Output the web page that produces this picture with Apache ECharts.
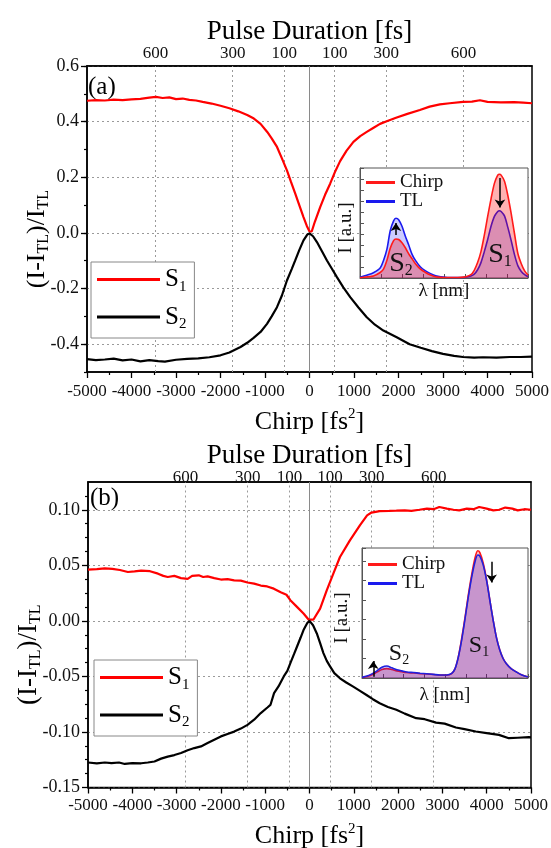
<!DOCTYPE html>
<html><head><meta charset="utf-8">
<script src="https://cdn.jsdelivr.net/npm/echarts@6/dist/echarts.min.js"></script>
<style>html,body{margin:0;padding:0;background:#fff}#c{width:551px;height:848px}</style>
</head><body><div id="c"></div>
<script>
const FONT = '"Liberation Serif","Times New Roman","DejaVu Serif",serif';

// ---------- Panel (a) main curves ----------
const aS1Chirp = [-5000,-4800,-4600,-4400,-4200,-4000,-3800,-3600,-3450,-3300,-3150,-3000,-2850,-2700,-2550,-2400,-2200,-2000,-1800,-1600,-1400,-1250,-1100,-950,-850,-730,-620,-507,-420,-320,-230,-135,-60,0,50,120,240,350,464,580,688,830,987,1140,1287,1440,1585,1750,1960,2200,2480,2700,2930,3150,3450,3650,3830,4000,4300,4600,4800,5000];
const aS1Val   = [0.475,0.477,0.476,0.479,0.477,0.480,0.482,0.486,0.489,0.485,0.487,0.481,0.483,0.478,0.476,0.471,0.465,0.457,0.448,0.437,0.424,0.411,0.392,0.363,0.340,0.309,0.268,0.225,0.185,0.141,0.100,0.057,0.025,0.005,0.005,0.040,0.093,0.137,0.177,0.222,0.258,0.295,0.327,0.348,0.363,0.378,0.392,0.402,0.415,0.428,0.442,0.454,0.462,0.466,0.471,0.472,0.477,0.471,0.469,0.470,0.468,0.466];
const aS2Chirp = [-5000,-4800,-4600,-4400,-4200,-4000,-3800,-3600,-3400,-3250,-3000,-2750,-2500,-2250,-2000,-1800,-1550,-1400,-1256,-1100,-955,-850,-731,-620,-507,-400,-321,-230,-135,-50,0,80,167,280,392,500,616,760,915,1100,1287,1470,1660,1960,2250,2500,2750,3000,3250,3450,3700,3900,4200,4500,4750,5000];
const aS2Val   = [-0.454,-0.457,-0.455,-0.452,-0.458,-0.455,-0.462,-0.457,-0.461,-0.463,-0.456,-0.453,-0.451,-0.447,-0.440,-0.430,-0.410,-0.395,-0.377,-0.356,-0.327,-0.300,-0.267,-0.225,-0.171,-0.130,-0.099,-0.062,-0.027,-0.006,-0.002,-0.012,-0.033,-0.066,-0.099,-0.128,-0.159,-0.196,-0.231,-0.268,-0.303,-0.330,-0.351,-0.375,-0.400,-0.413,-0.425,-0.435,-0.442,-0.446,-0.448,-0.447,-0.448,-0.446,-0.446,-0.445];
const aYTicks = [-0.4,-0.2,0,0.2,0.4,0.6];
const aPulseChirp = [-3460,-1726,-567,567,1726,3460];
const aPulseLabels = ['600','300','100','100','300','600'];

// ---------- Panel (a) inset spectra ----------
const aInsX     = [0,4,8,12,14,16,18,20,21.4,23,25,27,29,31,33,36,39,42,45,48,52,56,60,63,66,68,70,72,74,76,78,80,82,83,84,86,88,90,92,94,96,98,100];
const aInsTL    = [0.006,0.025,0.048,0.09,0.16,0.26,0.43,0.52,0.543,0.53,0.47,0.38,0.30,0.215,0.16,0.10,0.065,0.04,0.02,0.01,0.005,0.004,0.005,0.008,0.018,0.035,0.075,0.14,0.24,0.35,0.47,0.56,0.605,0.612,0.605,0.565,0.46,0.34,0.21,0.11,0.06,0.03,0.012];
const aInsChirp = [0.003,0.01,0.018,0.05,0.08,0.16,0.27,0.34,0.355,0.35,0.32,0.275,0.22,0.175,0.13,0.08,0.05,0.027,0.012,0.006,0.004,0.004,0.006,0.012,0.03,0.07,0.14,0.24,0.39,0.56,0.72,0.86,0.935,0.943,0.935,0.88,0.75,0.585,0.40,0.22,0.13,0.065,0.027];

// ---------- Panel (b) main curves ----------
const bS1Chirp = [-5000,-4800,-4620,-4450,-4280,-4100,-3950,-3800,-3600,-3420,-3300,-3200,-3050,-2900,-2750,-2650,-2500,-2400,-2300,-2150,-2000,-1850,-1700,-1550,-1400,-1250,-1100,-955,-806,-650,-520,-432,-283,-135,-22,90,240,389,538,688,912,1137,1300,1400,1585,1800,1960,2150,2300,2480,2650,2800,2930,3100,3250,3380,3550,3700,3830,4000,4150,4280,4420,4580,4700,4850,5000];
const bS1Val   = [0.0462,0.0465,0.0472,0.0468,0.0458,0.0440,0.0445,0.0452,0.0447,0.0425,0.0405,0.0395,0.0405,0.0385,0.0378,0.0405,0.0410,0.0395,0.0400,0.0385,0.0372,0.0375,0.0365,0.0362,0.0345,0.0335,0.0318,0.0310,0.0290,0.0258,0.0235,0.0186,0.0126,0.0066,0.0012,0.0012,0.0110,0.0275,0.0425,0.0575,0.0724,0.0860,0.0950,0.0975,0.0988,0.0990,0.0992,0.0995,0.0990,0.1000,0.1010,0.1005,0.1025,0.1010,0.1000,0.0995,0.1010,0.1005,0.1025,0.1010,0.0995,0.1000,0.1020,0.1010,0.0995,0.1005,0.1000];
const bS2Chirp = [-5000,-4800,-4620,-4470,-4300,-4170,-4000,-3800,-3650,-3500,-3350,-3200,-3050,-2900,-2750,-2600,-2450,-2300,-2150,-2000,-1850,-1700,-1550,-1400,-1250,-1100,-950,-882,-800,-700,-581,-500,-432,-350,-283,-200,-135,-50,0,80,165,240,314,390,464,560,688,830,987,1140,1287,1430,1585,1770,1960,2150,2408,2600,2857,3050,3305,3500,3753,4000,4276,4500,4700,4955,5000];
const bS2Val   = [-0.1275,-0.1282,-0.1275,-0.1280,-0.1275,-0.1288,-0.1280,-0.1282,-0.1275,-0.1266,-0.1240,-0.1222,-0.1208,-0.1190,-0.1165,-0.1145,-0.1130,-0.1100,-0.1070,-0.1040,-0.1018,-0.0997,-0.0970,-0.0936,-0.0890,-0.0830,-0.0780,-0.0757,-0.0650,-0.0590,-0.0500,-0.0450,-0.0380,-0.0300,-0.0233,-0.0150,-0.0083,-0.0020,0.0,-0.0040,-0.0113,-0.0200,-0.0290,-0.0360,-0.0410,-0.0470,-0.0517,-0.0555,-0.0592,-0.0630,-0.0667,-0.0705,-0.0741,-0.0775,-0.0800,-0.0835,-0.0876,-0.0885,-0.0916,-0.0925,-0.0960,-0.0975,-0.0996,-0.1010,-0.1026,-0.1056,-0.1052,-0.1047,-0.1048];
const bYTicks = [-0.15,-0.10,-0.05,0,0.05,0.10];
const bPulseChirp = [-2800,-1395,-452,460,1405,2803];
const bPulseLabels = ['600','300','100','100','300','600'];

// ---------- Panel (b) inset spectra ----------
const bInsX     = [0,3,6,9,12,15,18,21,24,27,31,35,39,43,47,51,54,56,58,60,62,64,66,68,69.7,71,73,75,77,79,81,83,85,87,90,93,96,100];
const bInsTL    = [0.005,0.015,0.032,0.055,0.082,0.092,0.078,0.064,0.055,0.046,0.042,0.037,0.033,0.028,0.023,0.023,0.035,0.07,0.16,0.29,0.45,0.62,0.77,0.89,0.946,0.938,0.87,0.754,0.60,0.446,0.31,0.215,0.15,0.11,0.07,0.046,0.025,0.008];
const bInsChirp = [0.004,0.012,0.025,0.045,0.065,0.072,0.065,0.055,0.048,0.042,0.038,0.034,0.031,0.027,0.022,0.022,0.034,0.07,0.16,0.30,0.46,0.635,0.79,0.92,0.979,0.965,0.885,0.76,0.60,0.446,0.31,0.215,0.15,0.11,0.07,0.046,0.025,0.008];

const zip = (xs, ys) => xs.map((x, i) => [x, ys[i]]);
const nearestLabel = (pos, labels) => v => {
  let best = 0;
  pos.forEach((p, i) => { if (Math.abs(p - v) < Math.abs(pos[best] - v)) best = i; });
  return labels[best];
};

const gridLineStyle = {color: '#9a9a9a', type: [2, 3], width: 1};
const spine = {show: true, onZero: false, lineStyle: {color: '#000', width: 1.5}};
const tickLbl = {fontFamily: FONT, fontSize: 17, color: '#111'};

function mainAxes(gi, pulsePos, pulseLabels, topMargin, topGap, botGap, botMargin) {
  return [
    { // bottom chirp axis
      type: 'value', gridIndex: gi, position: 'bottom', min: -5000, max: 5000, interval: 1000,
      axisLine: spine, axisTick: {show: true, inside: false, length: 6, lineStyle: {color: '#000', width: 1.3}},
      minorTick: {show: true, splitNumber: 2, length: 3, lineStyle: {color: '#000', width: 1.2}},
      axisLabel: Object.assign({margin: botMargin, showMinLabel: true, showMaxLabel: true, formatter: v => String(v)}, tickLbl),
      splitLine: {show: false},
      name: '{n|Chirp [fs}{p|2}{n|]}', nameLocation: 'middle', nameGap: botGap, nameMoveOverlap: false,
      nameTextStyle: {rich: {
        n: {fontFamily: FONT, fontSize: 26, lineHeight: 30, color: '#000'},
        p: {fontFamily: FONT, fontSize: 15, lineHeight: 15, verticalAlign: 'top', color: '#000'}
      }}
    },
    { // top pulse-duration axis
      type: 'value', gridIndex: gi, position: 'top', min: -5000, max: 5000,
      axisLine: spine, axisTick: {show: false},
      axisLabel: Object.assign({margin: topMargin, customValues: pulsePos, formatter: nearestLabel(pulsePos, pulseLabels)}, tickLbl),
      splitLine: {show: false},
      name: 'Pulse Duration [fs]', nameLocation: 'middle', nameGap: topGap, nameMoveOverlap: false,
      nameTextStyle: {fontFamily: FONT, fontSize: 27, color: '#000'}
    }
  ];
}

function insetXAxis(gi, gap) {
  return {
    type: 'value', gridIndex: gi, min: 0, max: 100, interval: 12.5, z: 11,
    axisLine: {show: true, onZero: false, lineStyle: {color: '#555', width: 1}},
    axisTick: {show: true, inside: true, length: 4, lineStyle: {color: '#555'}},
    axisLabel: {show: false}, splitLine: {show: false},
    name: 'λ [nm]', nameLocation: 'middle', nameGap: gap, nameMoveOverlap: false,
    nameTextStyle: {fontFamily: FONT, fontSize: 19, color: '#111'}
  };
}
function insetYAxis(gi, interval, gap) {
  return {
    type: 'value', gridIndex: gi, min: 0, max: 1, interval: interval, z: 11,
    axisLine: {show: true, onZero: false, lineStyle: {color: '#555', width: 1}},
    axisTick: {show: true, inside: true, length: 4, lineStyle: {color: '#555'}},
    axisLabel: {show: false}, splitLine: {show: false},
    name: 'I [a.u.]', nameLocation: 'middle', nameGap: gap, nameMoveOverlap: false,
    nameTextStyle: {fontFamily: FONT, fontSize: 19, color: '#111', padding: [0, 10, 0, 0]}
  };
}

const yNameRich = (fs) => ({
  n: {fontFamily: FONT, fontSize: fs, lineHeight: fs + 4, color: '#000'},
  s: {fontFamily: FONT, fontSize: Math.round(fs * 0.6), lineHeight: Math.round(fs * 0.6), verticalAlign: 'bottom', color: '#000'}
});
const Y_NAME = '{n|(I-I}{s|TL}{n|)/I}{s|TL}';

function gridLineSeries(xi, yi, pulsePos) {
  return {
    type: 'line', xAxisIndex: xi, yAxisIndex: yi, data: [], silent: true, z: 1,
    markLine: {
      silent: true, symbol: 'none', label: {show: false}, animation: false, z: 2,
      lineStyle: gridLineStyle,
      data: pulsePos.map(v => ({xAxis: v})).concat([{xAxis: 0, lineStyle: {type: 'solid', color: '#8a8a8a', width: 1}}])
    }
  };
}

function mainLine(name, color, xi, yi, xs, ys) {
  return {type: 'line', name: name, xAxisIndex: xi, yAxisIndex: yi, data: zip(xs, ys), symbol: 'none',
    color: color, lineStyle: {color: color, width: 2.2}, z: 6};
}

function insetSeries(name, color, fill, xi, yi, xs, ys, z, extra) {
  return Object.assign({type: 'line', name: name, xAxisIndex: xi, yAxisIndex: yi, data: zip(xs, ys), symbol: 'none',
    smooth: 0.3, color: color, lineStyle: {color: color, width: 1.6}, areaStyle: {color: fill, opacity: 1}, z: z}, extra || {});
}

const sLabelRich = (fs) => ({
  s: {fontFamily: FONT, fontSize: fs, lineHeight: fs + 2, color: '#111'},
  b: {fontFamily: FONT, fontSize: Math.round(fs * 0.58), lineHeight: Math.round(fs * 0.58), verticalAlign: 'bottom', color: '#111'}
});
function sMarks(items, fs) {
  return {
    z: 16, symbol: 'circle', symbolSize: 1, itemStyle: {color: 'rgba(0,0,0,0)'}, silent: true, animation: false,
    label: {show: true, position: 'inside', rich: sLabelRich(fs)},
    data: items.map(it => ({coord: [it.x, it.y], value: 0, label: {show: true, formatter: '{s|S}{b|' + it.sub + '}'}}))
  };
}
function arrows(list) {
  return {
    z: 16, silent: true, animation: false, symbol: ['none', 'arrow'], symbolSize: 8, label: {show: false},
    lineStyle: {color: '#000', width: 1.5, type: 'solid'}, itemStyle: {color: '#000'},
    data: list.map(a => [{coord: [a.x, a.y0]}, {coord: [a.x, a.y1]}])
  };
}

const legendRich = {
  s: {fontFamily: FONT, fontSize: 25, lineHeight: 30, color: '#000'},
  b: {fontFamily: FONT, fontSize: 15, lineHeight: 15, verticalAlign: 'bottom', color: '#000'}
};
function mainLegend(left, top) {
  return {
    data: ['S1', 'S2'], orient: 'vertical', left: left, top: top, icon: 'rect', itemWidth: 63, itemHeight: 3,
    itemGap: 10, padding: [5, 8, 6, 6], backgroundColor: '#fff', borderColor: '#888', borderWidth: 1,
    selectedMode: false, z: 8,
    formatter: n => n === 'S1' ? '{s|S}{b|1}' : '{s|S}{b|2}',
    textStyle: {rich: legendRich}
  };
}
function insetLegend(left, top) {
  return {
    data: ['Chirp', 'TL'], orient: 'vertical', left: left, top: top, icon: 'rect', itemWidth: 29, itemHeight: 3,
    itemGap: 0, padding: 0, selectedMode: false, z: 20,
    textStyle: {fontFamily: FONT, fontSize: 19, lineHeight: 18, color: '#111'}
  };
}

const option = {
  animation: false,
  backgroundColor: '#fff',
  title: [
    {text: '(a)', left: 88, top: 75, padding: 0, textStyle: {fontFamily: FONT, fontSize: 25, fontWeight: 'normal', color: '#000'}},
    {text: '(b)', left: 90, top: 486, padding: 0, textStyle: {fontFamily: FONT, fontSize: 25, fontWeight: 'normal', color: '#000'}}
  ],
  grid: [
    {left: 87, top: 66, width: 445, height: 306, show: true, borderColor: '#000', borderWidth: 1.5, z: 0, containLabel: false, outerBoundsMode: 'none'},
    {left: 360, top: 168, width: 168, height: 110, show: true, borderColor: '#555', borderWidth: 1, backgroundColor: '#fff', z: 10, containLabel: false, outerBoundsMode: 'none'},
    {left: 88, top: 482, width: 443, height: 305.5, show: true, borderColor: '#000', borderWidth: 1.5, z: 0, containLabel: false, outerBoundsMode: 'none'},
    {left: 362, top: 548, width: 166, height: 130, show: true, borderColor: '#555', borderWidth: 1, backgroundColor: '#fff', z: 10, containLabel: false, outerBoundsMode: 'none'}
  ],
  legend: [mainLegend(91, 262), insetLegend(366, 173), mainLegend(94, 660), insetLegend(368, 555)],
  xAxis: [].concat(
    mainAxes(0, aPulseChirp, aPulseLabels, 4, 21, 35, 11),   // 0,1
    [insetXAxis(1, 4)],                                      // 2
    mainAxes(2, bPulseChirp, bPulseLabels, -4, 13, 34, 10),  // 3,4
    [insetXAxis(3, 8)]                                       // 5
  ),
  yAxis: [
    { // 0: (a) main
      type: 'value', gridIndex: 0, min: -0.5, max: 0.6, interval: 0.1,
      axisLine: spine,
      axisTick: {show: true, inside: false, length: 6, customValues: aYTicks, lineStyle: {color: '#000', width: 1.3}},
      axisLabel: Object.assign({margin: 8, customValues: aYTicks, formatter: v => v.toFixed(1)}, tickLbl, {fontSize: 18}),
      splitLine: {show: true, lineStyle: gridLineStyle},
      name: Y_NAME, nameLocation: 'middle', nameGap: 35, nameMoveOverlap: false,
      nameTextStyle: {padding: [0, 40, 0, 0], rich: yNameRich(26)}
    },
    { // 1: (a) minor ticks
      type: 'value', gridIndex: 0, min: -0.5, max: 0.6, interval: 0.1, position: 'left', offset: 0,
      axisLine: {show: false, onZero: false}, axisLabel: {show: false}, splitLine: {show: false},
      axisTick: {show: true, inside: false, length: 3, lineStyle: {color: '#000', width: 1.2}}
    },
    insetYAxis(1, 0.1, 4), // 2
    { // 3: (b) main
      type: 'value', gridIndex: 2, min: -0.15, max: 0.125, interval: 0.05,
      axisLine: spine,
      axisTick: {show: true, inside: false, length: 6, customValues: bYTicks, lineStyle: {color: '#000', width: 1.3}},
      minorTick: {show: true, splitNumber: 4, length: 3, lineStyle: {color: '#000', width: 1.2}},
      axisLabel: Object.assign({margin: 8, customValues: bYTicks, formatter: v => v.toFixed(2)}, tickLbl, {fontSize: 18}),
      splitLine: {show: true, lineStyle: gridLineStyle},
      name: Y_NAME, nameLocation: 'middle', nameGap: 44, nameMoveOverlap: false,
      nameTextStyle: {padding: [0, 40, 0, 0], rich: yNameRich(27)}
    },
    insetYAxis(3, 0.15, 10) // 4
  ],
  series: [
    gridLineSeries(0, 0, aPulseChirp),
    mainLine('S1', '#ff0000', 0, 0, aS1Chirp, aS1Val),
    mainLine('S2', '#000000', 0, 0, aS2Chirp, aS2Val),
    insetSeries('TL', '#1a1aee', 'rgba(0,0,255,0.2)', 2, 2, aInsX, aInsTL, 12),
    insetSeries('Chirp', '#ff1a1a', 'rgba(255,0,0,0.3)', 2, 2, aInsX, aInsChirp, 13, {
      markLine: arrows([{x: 21.4, y0: 0.39, y1: 0.50}, {x: 83.3, y0: 0.91, y1: 0.64}]),
      markPoint: sMarks([{x: 24.4, y: 0.127, sub: '2'}, {x: 83.3, y: 0.209, sub: '1'}], 28)
    }),

    gridLineSeries(3, 3, bPulseChirp),
    mainLine('S1', '#ff0000', 3, 3, bS1Chirp, bS1Val),
    mainLine('S2', '#000000', 3, 3, bS2Chirp, bS2Val),
    insetSeries('Chirp', '#ff1a1a', 'rgba(255,0,0,0.25)', 5, 4, bInsX, bInsChirp, 12),
    insetSeries('TL', '#2020dd', 'rgba(0,0,255,0.22)', 5, 4, bInsX, bInsTL, 13, {
      markLine: arrows([{x: 6.8, y0: 0.01, y1: 0.13}, {x: 78.1, y0: 0.895, y1: 0.735}]),
      markPoint: sMarks([{x: 22.3, y: 0.185, sub: '2'}, {x: 70.5, y: 0.246, sub: '1'}], 24)
    })
  ]
};

const chart = echarts.init(document.getElementById('c'), null, {renderer: 'canvas'});
chart.setOption(option);
</script>
</body></html>
